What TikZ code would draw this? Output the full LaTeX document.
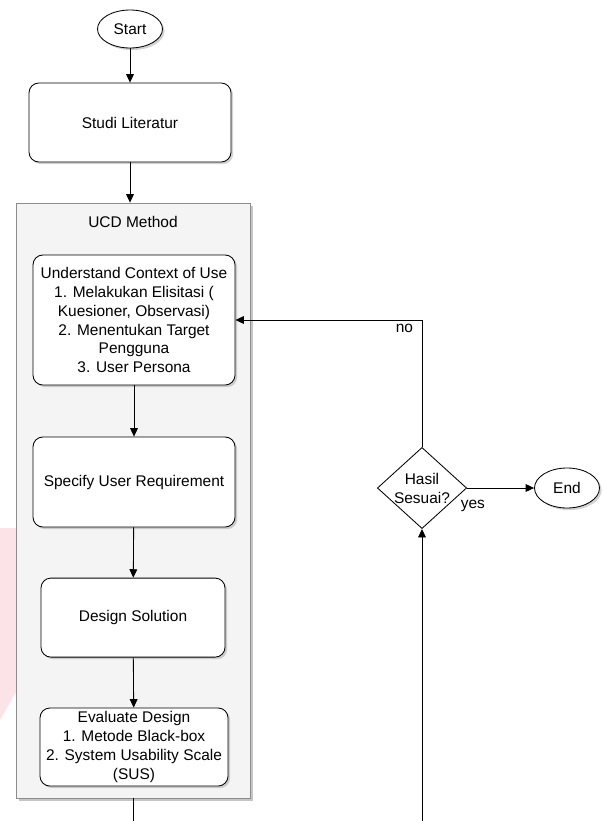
\documentclass[tikz,border=0pt]{standalone}
\usepackage{fontspec}
\setmainfont{Liberation Sans}
\usetikzlibrary{shapes.geometric,arrows.meta,shadows}
\definecolor{ucdGray}{HTML}{F4F4F4}
\definecolor{ucdLine}{HTML}{8C8C8C}
\definecolor{markPink}{HTML}{FBE3E7}

\begin{document}
\begin{tikzpicture}
        [font=\fontsize{11}{13.5}\selectfont, line width=0.6pt,
        box/.style={rectangle, rounded corners=7pt, draw, fill=white, align=center, inner sep=1pt,
            drop shadow={shadow xshift=1.5pt, shadow yshift=-1.5pt, opacity=0.35}},
        term/.style={ellipse, draw, fill=white, minimum width=1.625cm, minimum height=0.95cm, inner sep=0pt,
            drop shadow={shadow xshift=1.5pt, shadow yshift=-1.5pt, opacity=0.35}},
        decision/.style={diamond, draw, fill=white, aspect=1.1, inner sep=0pt, align=center},
        container/.style={rectangle, draw=ucdLine, fill=ucdGray,
            drop shadow={shadow xshift=2pt, shadow yshift=-2pt, opacity=0.45}},
        flow/.style={-{Triangle[length=6pt, width=5.5pt]}}]
        \useasboundingbox (0,0) rectangle (15.075,-20.525);
        \clip (0,0) rectangle (15.075,-20.525);
        \fill[markPink] (0,-13.2) -- (0.4,-13.2) -- (0.4,-17.3) -- (0,-18.0) -- cycle;

        \node[term] (start) at (3.25,-0.725) {Start};
        \node[box, minimum width=5.05cm, minimum height=1.975cm] (studi) at (3.25,-3.0625) {Studi Literatur};
        \node[container, minimum width=5.85cm, minimum height=14.875cm] (ucd) at (3.325,-12.5125) {};
        \node (ucdTitle) at (3.325,-5.55) {UCD Method};
        \node[box, minimum width=5.05cm, minimum height=3.25cm] (understand) at (3.35,-8.0)
            {Understand Context of Use\\1. Melakukan Elisitasi (\\Kuesioner, Observasi)\\2. Menentukan Target\\Pengguna\\3. User Persona};
        \node[box, minimum width=5.05cm, minimum height=2.25cm] (specify) at (3.35,-12.05) {Specify User Requirement};
        \node[box, minimum width=4.6cm, minimum height=1.975cm] (design) at (3.325,-15.44) {Design Solution};
        \node[box, minimum width=4.7cm, minimum height=1.95cm] (evaluate) at (3.35,-18.675)
            {Evaluate Design\\1. Metode Black-box\\2. System Usability Scale\\(SUS)};
        \node[decision] (hasil) at (10.55,-12.2) {Hasil\\Sesuai?};
        \node[term, minimum height=1.0cm] (end) at (14.175,-12.2) {End};
        \coordinate (turn) at (hasil.north |- understand.east);

        \draw[flow] (start) -- (studi);
        \draw[flow] (studi) -- (ucd.north -| studi.south);
        \draw[flow] (understand) -- (specify);
        \draw[flow] (specify) -- (design);
        \draw[flow] (design) -- (evaluate);
        \draw[flow] (ucd.south) -- ++(0,-1.5) -| (hasil.south);
        \draw[flow] (hasil.north) -- (turn) -- (understand.east);
        \draw[flow] (hasil.east) -- (end.west);

        \node[anchor=north east, inner sep=1pt, xshift=-0.18cm, yshift=-0.05cm] (noLabel) at (turn) {no};
        \node[anchor=north west, inner sep=1pt, xshift=-0.2cm, yshift=-0.25cm] (yesLabel) at (hasil.east) {yes};
    \end{tikzpicture}
\end{document}
